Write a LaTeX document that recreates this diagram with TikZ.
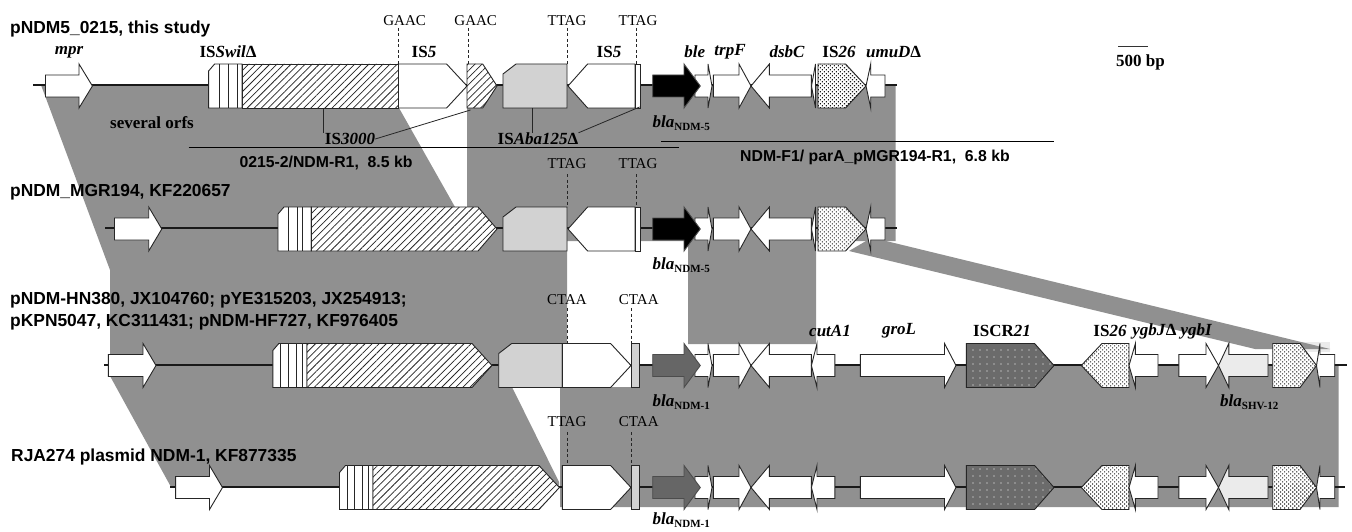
\documentclass[tikz,border=0pt]{standalone}
\usepackage{fontspec}
\setmainfont{Liberation Serif}
\setsansfont{Liberation Sans}
\usetikzlibrary{patterns.meta}
\definecolor{band}{HTML}{909090}
\definecolor{lgray}{HTML}{D2D2D2}
\definecolor{dgene}{HTML}{666666}
\definecolor{pale}{HTML}{EBEBEB}
\tikzset{
  gn/.style={draw=black!85,line width=0.9pt,line join=miter,fill=white},
  hatchg/.style={draw=black!85,line width=0.9pt,preaction={fill=white},pattern={Lines[angle=45,distance=5pt,line width=0.75pt]},pattern color=black!85},
  dotg/.style={draw=black!85,line width=0.9pt,preaction={fill=white},pattern={Dots[distance=2.83pt,angle=45,radius=0.75pt]},pattern color=black!90},
  crg/.style={draw=black!85,line width=0.9pt,preaction={fill=black!58},pattern={Dots[distance=7pt,radius=0.7pt]},pattern color=white},
  backbone/.style={draw=black!90,line width=1.3pt},
  tsd/.style={draw=black!85,line width=0.7pt,dashed,dash pattern=on 3pt off 2.5pt},
  lead/.style={draw=black!85,line width=0.8pt},
  rule/.style={draw=black,line width=0.9pt},
  namet/.style={font=\sffamily\bfseries\fontsize{17.4}{19}\selectfont,anchor=west,inner sep=0pt},
  subt/.style={font=\sffamily\bfseries\fontsize{15.8}{17}\selectfont,inner sep=0pt},
  lab/.style={font=\bfseries\fontsize{17}{18}\selectfont,inner sep=0pt},
  seqt/.style={font=\fontsize{15}{16}\selectfont,inner sep=0pt},
}
\newcommand\RA[5][gn]{\draw[#1] (#2,#5-11) -- (#3,#5-11) -- (#3,#5-22) -- (#4,#5) -- (#3,#5+22) -- (#3,#5+11) -- (#2,#5+11) -- cycle;}
\newcommand\RP[5][gn]{\draw[#1] (#2,#5-22) -- (#3,#5-22) -- (#4,#5) -- (#3,#5+22) -- (#2,#5+22) -- cycle;}
\newcommand\Ch[4][lgray]{\draw[gn,fill=#1] (#2,#4+22) -- (#2,#4-12) -- (#2+13,#4-22) -- (#3,#4-22) -- (#3,#4+22) -- cycle;}
\newcommand\Sw[3]{\draw[gn] (#1,#3+22) -- (#1,#3-15) -- (#1+6,#3-22) -- (#2,#3-22) -- (#2,#3+22) -- cycle;}
\newcommand\Core[3]{% y, bla colour, unused
  \RA{695}{708}{712}{#1}
  \RA[gn,draw=black!70,fill=#2]{652.7}{684}{700.3}{#1}
  \RA{713.4}{739}{751}{#1}
  \RA{811.4}{769.4}{751}{#1}
}
\newcommand\Tail[1]{% shared right half of rows 3 and 4
  \RA{834.8}{817}{811.4}{#1}
  \RA{860.4}{944.5}{956}{#1}
  \RP[crg]{966.4}{1034.6}{1054}{#1}
  \RP[dotg]{1129}{1102}{1081.3}{#1}
  \RA{1158}{1135.4}{1129}{#1}
  \RA{1178.8}{1206}{1218.5}{#1}
  \RA[gn,fill=pale]{1268}{1228.8}{1218.5}{#1}
  \RP[dotg]{1272.7}{1300}{1316.5}{#1}
  \RA{1334.7}{1320}{1316.5}{#1}
}
\newcommand\Subs[1]{\raisebox{-3pt}{\fontsize{11}{11}\selectfont #1}}
\begin{document}
\begin{tikzpicture}[x=1pt,y=-1pt]
\useasboundingbox (0,0) rectangle (1352,532);
\fill[white] (0,0) rectangle (1352,532);
% homology bands
\fill[band] (41,85) -- (399,85) -- (399,108) -- (455,207) -- (467,207) -- (467,85) -- (895.5,85) -- (895.5,241) -- (816,241) -- (816,344) -- (688,344) -- (688,241) -- (567,241) -- (567,387) -- (512,387) -- (559,482) -- (559,487) -- (171,487) -- (110,376) -- (110,270) -- cycle;
\fill[band] (560,387) -- (640,387) -- (640,364) -- (1338.5,364) -- (1338.5,507) -- (560,507) -- cycle;
\fill[pale] (1273,342) rectangle (1330,352);
\fill[band] (849,251) -- (866,241) -- (886,241) -- (1330,349) -- (1255,349) -- cycle;
% backbones
\coordinate (r1a) at (33,85);   \coordinate (r1b) at (897,85);
\coordinate (r2a) at (105,228); \coordinate (r2b) at (897,232);
\coordinate (r3a) at (104,365); \coordinate (r3b) at (1347,369);
\coordinate (r4a) at (170,487); \coordinate (r4b) at (1345,491);
\draw[backbone] (r1a) -- (r1a -| r1b);
\draw[backbone] (r2a) -- (r2a -| r2b);
\draw[backbone] (r3a) -- (r3a -| r3b);
\draw[backbone] (r4a) -- (r4a -| r4b);
% row 1
\RA{45.5}{79}{92.4}{86}
\Sw{208.6}{242}{86}
\foreach \v in {219,228.5,237,242} \draw[gn] (\v,64) -- (\v,108);
\RP[hatchg]{242}{398.5}{398.5}{86}
\RP{398.5}{446.6}{467}{86}
\RP[hatchg]{467}{482.7}{497}{86}
\Ch{503}{567}{86}
\RP{635}{587.6}{568}{86}
\draw[gn] (635,64) rectangle (640,108);
\Core{86}{black}{}
\draw[gn] (815.5,64) -- (811.5,86) -- (815.5,108) -- cycle;
\RP[dotg]{818}{845.5}{866}{86}
\RA{885}{870.7}{866}{86}
% row 2
\RA{114.5}{148.7}{161.8}{229}
\Sw{278}{311.4}{229}
\foreach \v in {288,297,302,311.4} \draw[gn] (\v,207) -- (\v,251);
\RP[hatchg]{311.4}{478}{497}{229}
\Ch{503}{567}{229}
\RP{635}{587.6}{568}{229}
\draw[gn] (635,207) rectangle (640,251);
\Core{229}{black}{}
\draw[gn] (815.5,207) -- (811.5,229) -- (815.5,251) -- cycle;
\RP[dotg]{818}{845.5}{866}{229}
\RA{885}{870.7}{866}{229}
% row 3
\RA{108.4}{143}{156}{365.5}
\Sw{272.8}{307}{365.5}
\foreach \v in {280,288,296,302,307} \draw[gn] (\v,343.5) -- (\v,387.5);
\RP[hatchg]{307}{472}{492}{365.5}
\Ch{498.7}{562.4}{365.5}
\RP{562.4}{610.6}{631}{365.5}
\draw[gn,fill=lgray] (631,343.5) rectangle (639.6,387.5);
\Core{365.5}{dgene}{}
\Tail{365.5}
% row 4
\RA{175.6}{209.5}{222.5}{487.5}
\Sw{339.5}{373}{487.5}
\foreach \v in {347,354.7,362,368.6,373} \draw[gn] (\v,465.5) -- (\v,509.5);
\RP[hatchg]{373}{539}{559.4}{487.5}
\RP{562.4}{610.6}{631}{487.5}
\draw[gn,fill=lgray] (631,465.5) rectangle (639.6,509.5);
\Core{487.5}{dgene}{}
\Tail{487.5}
% target-site labels and their dashed markers
\node[seqt] (g1) at (404.6,21) {GAAC};
\node[seqt] (g2) at (475.7,21) {GAAC};
\node[seqt] (t1) at (567,21) {TTAG};
\node[seqt] (t2) at (638,21) {TTAG};
\node[seqt] (t3) at (567,164) {TTAG};
\node[seqt] (t4) at (638,164) {TTAG};
\node[seqt] (c1) at (567,300) {CTAA};
\node[seqt] (c2) at (638.8,300) {CTAA};
\node[seqt] (t5) at (567,422) {TTAG};
\node[seqt] (c3) at (638.8,422) {CTAA};
\coordinate (gg1) at (398.5,64); \coordinate (gg2) at (468,64);
\coordinate (gg3) at (567,64);   \coordinate (gg4) at (636,64);
\coordinate (gg5) at (567,207);  \coordinate (gg6) at (636,207);
\coordinate (gg7) at (567,344);  \coordinate (gg8) at (631,344);
\coordinate (gg9) at (567,466);  \coordinate (gg10) at (631,466);
\draw[tsd] (gg1 |- 0,28) -- (gg1);
\draw[tsd] (gg2 |- 0,28) -- (gg2);
\draw[tsd] (gg3 |- 0,28) -- (gg3);
\draw[tsd] (gg4 |- 0,28) -- (gg4);
\draw[tsd] (gg5 |- 0,174) -- (gg5);
\draw[tsd] (gg6 |- 0,174) -- (gg6);
\draw[tsd] (gg7 |- 0,308) -- (gg7);
\draw[tsd] (gg8 |- 0,308) -- (gg8);
\draw[tsd] (gg9 |- 0,432) -- (gg9);
\draw[tsd] (gg10 |- 0,432) -- (gg10);
% plasmid names
\node[namet] (n1) at (10,29) {pNDM5\_0215, this study};
\node[namet] (n2) at (10,192.7) {pNDM\_MGR194, KF220657};
\node[namet] (n3) at (10,300) {pNDM-HN380, JX104760; pYE315203, JX254913;};
\node[namet] (n4) at (10,322) {pKPN5047, KC311431; pNDM-HF727, KF976405};
\node[namet] (n5) at (11,457) {RJA274 plasmid NDM-1, KF877335};
% gene labels
\node[lab] (a1) at (69,52) {\itshape mpr};
\node[lab] (a2) at (228,52) {IS\textit{Swil}Δ};
\node[lab] (a3) at (424,52) {IS\textit{5}};
\node[lab] (a4) at (609,52) {IS\textit{5}};
\node[lab] (a5) at (694.7,52) {\itshape ble};
\node[lab] (a6) at (730,52) {\itshape trpF};
\node[lab] (a7) at (787,52) {\itshape dsbC};
\node[lab] (a8) at (839,52) {IS\textit{26}};
\node[lab] (a9) at (893.6,52) {\textit{umuD}Δ};
\node[lab] (a10) at (152,123) {several orfs};
\node[lab] (is3000) at (350,139) {IS\textit{3000}};
\node[lab] (isaba) at (538,139) {IS\textit{Aba125}Δ};
\node[lab,anchor=west] (b1) at (652.5,123) {\textit{bla}\Subs{NDM-5}};
\node[lab,anchor=west] (b2) at (652.5,265) {\textit{bla}\Subs{NDM-5}};
\node[lab,anchor=west] (b3) at (652.5,402) {\textit{bla}\Subs{NDM-1}};
\node[lab,anchor=west] (b4) at (652.5,520) {\textit{bla}\Subs{NDM-1}};
\node[lab,anchor=west] (b5) at (1220,402.6) {\textit{bla}\Subs{SHV-12}};
\node[lab] (a11) at (830,331) {\itshape cutA1};
\node[lab] (a12) at (899,331) {\itshape groL};
\node[lab] (a13) at (1002,331) {ISCR\textit{21}};
\node[lab] (a14) at (1110,331) {IS\textit{26}};
\node[lab] (a15) at (1154.5,331) {\textit{ygbJ}Δ};
\node[lab] (a16) at (1196.5,331) {\textit{ygbI}};
\node[lab,anchor=west] (sc) at (1116,62) {500 bp};
% leader lines to labels
\coordinate (l1) at (323,108); \coordinate (l2) at (470.5,110);
\coordinate (l3) at (532,108); \coordinate (l4) at (639.6,107);
\draw[lead] (l1) -- (l1 |- is3000.north);
\draw[lead] (l2) -- (is3000.east);
\draw[lead] (l3) -- (l3 |- isaba.north);
\draw[lead] (l4) -- (isaba.north east);
% PCR spans
\coordinate (s1a) at (188.6,147.7); \coordinate (s1b) at (679,147.7);
\coordinate (s2a) at (661,141);     \coordinate (s2b) at (1054,141);
\draw[rule] (s1a) -- (s1b);
\draw[rule] (s2a) -- (s2b);
\node[subt] (s1) at (326,163) {0215-2/NDM-R1,\ \ 8.5 kb};
\node[subt] (s2) at (875,157) {NDM-F1/ parA\_pMGR194-R1,\ \ 6.8 kb};
% scale bar
\coordinate (sb1) at (1118,47); \coordinate (sb2) at (1147.5,47);
\draw[draw=black!80,line width=1pt] (sb1) -- (sb2);
\end{tikzpicture}
\end{document}
